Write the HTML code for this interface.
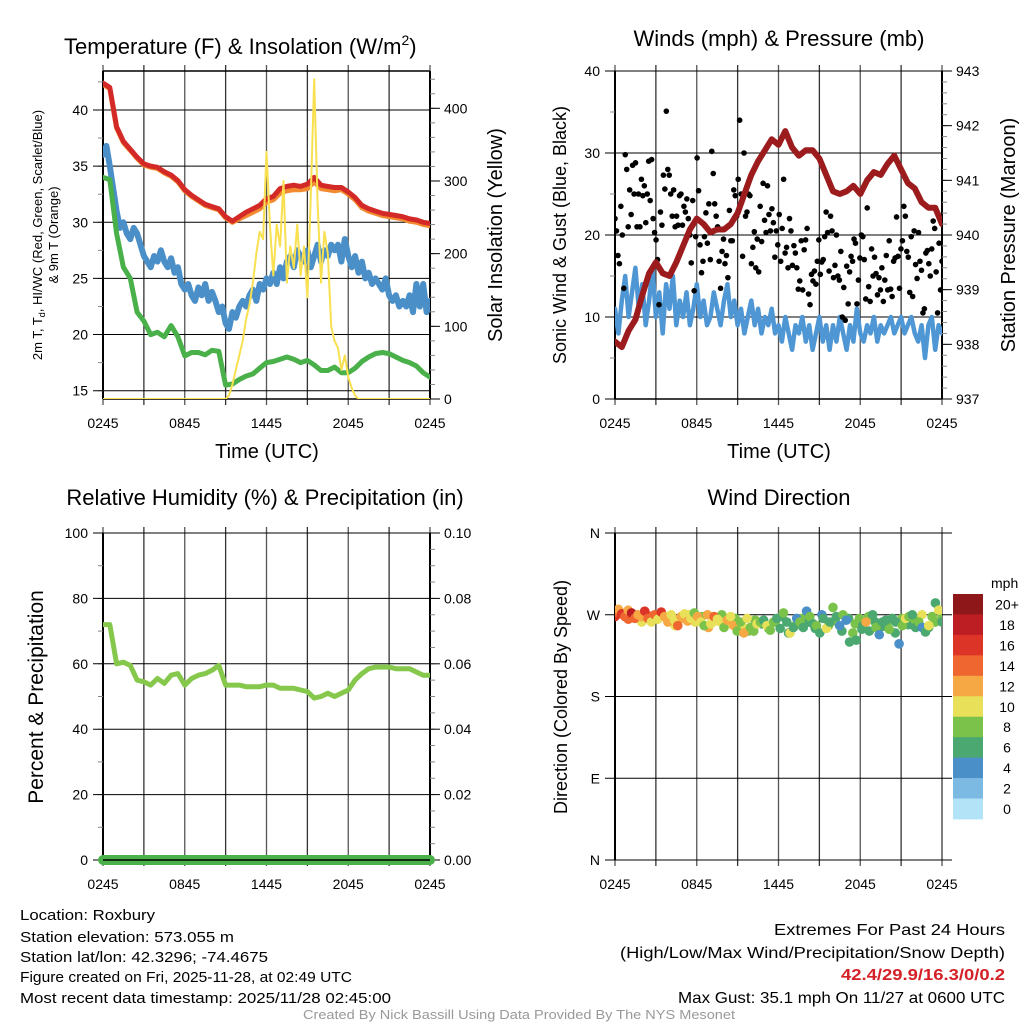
<!DOCTYPE html>
<html><head><meta charset="utf-8">
<style>
html,body{margin:0;padding:0;background:#fff;}
svg{display:block;font-family:"Liberation Sans",sans-serif;}
</style></head>
<body>
<svg id="chart" xmlns="http://www.w3.org/2000/svg" width="1024" height="1024" viewBox="0 0 1024 1024">
<rect width="1024" height="1024" fill="#fff"/>
</svg>
<script>
// ---------- DATA ----------
const timeLabels = ["0245","0845","1445","2045","0245"];
const tempRed = [42.4,42,38.5,37.2,36.5,35.8,35.2,35,34.9,34.5,34.2,33.7,32.9,32.4,32,31.6,31.4,31.2,30.5,30.1,30.5,30.9,31.2,31.5,32.1,32.3,33,33.2,33.3,33.2,33.4,34,33.3,33.2,33.1,33.1,32.7,32.2,31.5,31.2,31,30.8,30.7,30.6,30.5,30.3,30.2,30,29.9];
const tempOrange = [42.3,41.9,38.4,37.1,36.4,35.7,35.1,34.9,34.8,34.4,34.1,33.6,32.8,32.3,31.9,31.5,31.3,31.1,30.4,30,30.3,30.6,30.9,31.2,31.8,32,32.6,32.8,32.9,32.9,33,33.6,33,32.9,32.8,32.9,32.5,32,31.3,31,30.8,30.6,30.5,30.4,30.3,30.1,30,29.8,29.7];
const windChill = [36,36.8,35,33,31,29.5,30,29,28.5,29.5,29,28,27,26.5,26,27,26.5,27.5,26.5,26,26.8,25.5,26,24.5,24,24.5,23.5,23,24.2,23.5,24.5,23,23.8,23,22,22.5,21,20.5,22,21.5,22.5,23,22.5,23.5,24,23,24.5,24,25,24.5,25.5,24.5,26,25,26.5,27,26,27.5,27,26.5,27.5,26,27,28,26.5,27.5,27,28,27.5,28,26.5,28.5,27,26,27,25.5,26.5,25,25.5,24.5,25,24.5,24,25,23.5,23,23.5,22.5,23,22.5,23.5,22,24.5,22.5,24.5,22,23];
const dewPoint = [34,33.8,29,26,25,22,21.2,20,20.2,19.8,20.8,19.8,18.1,18.4,18.4,18.2,18.6,18.5,15.5,15.6,16,16.3,16.5,17,17.5,17.6,17.8,18,17.8,17.5,17.7,17.3,16.8,16.8,17.1,16.6,16.6,17,17.6,18,18.3,18.4,18.3,18,17.7,17.5,17.2,16.6,16.2];
const insolation = [0,0,0,0,0,0,0,0,0,0,0,0,0,0,0,0,0,0,0,0,0,0,0,0,0,0,0,0,0,0,0,0,0,0,0,0,0,5,20,40,60,80,110,130,160,200,230,220,340,240,170,240,210,300,160,210,180,240,170,210,140,280,440,270,160,230,200,100,80,70,40,60,30,15,5,0,0,0,0,0,0,0,0,0,0,0,0,0,0,0,0,0,0,0,0,0,0];
const windSpeed = [11,8,12,15,10,13,16,11,14,9,12,16,10,13,8,14,11,15,9,12,10,13,9,11,14,10,12,9,10,13,11,9,12,14,10,12,9,11,8,10,12,9,11,8,10,9,11,8,9,7,10,8,6,9,8,10,7,9,6,8,10,7,9,6,9,7,10,8,6,9,7,11,8,7,9,8,10,7,9,8,9,10,8,9,10,8,9,10,8,7,9,5,9,10,6,9,8];
const gusts = [22,20.5,17.5,16.5,23.5,20,13.5,29.8,28,21,25.5,22.5,28.5,25,28.8,21,25,21,26.8,24.8,26,21.5,25,29,24.2,29.2,22,20.3,19.4,17,11.5,22.8,21.2,27.3,25.6,35.1,28,27.3,25,22.3,25.5,21,22.3,21.2,24.8,25,21.2,23.5,22.8,24.4,22,20,16.6,24.2,13.2,19.8,29.4,25.4,18.8,15.4,16.8,19.8,22.7,19,23.8,17,30.2,27.5,23.8,22.3,21,16.8,13.5,18,19.5,16.5,17.5,14.8,23,19.3,19.3,25.5,24.8,22.3,26.8,34,25,17.4,30,22.3,22.8,25,24.8,16.5,18.5,20.4,16,19.5,15.5,23.5,19.2,26.3,21.8,20.3,26,22.5,20.5,23.2,21.5,17.3,20.5,18.8,22.5,16.8,20.8,26.8,17.8,18.5,16,22,20.5,16.3,18.7,17.8,16,13.4,14.4,19.3,13.3,18.2,19.4,20.8,12.8,11.5,15.2,14.4,15.6,14,16.8,19.4,15.2,16.7,17,19.8,22.8,20.3,15.6,22.3,20.5,14.8,16.3,20,15,14.5,18,10,13.6,9.6,16.2,11.6,15.5,17.4,16.8,19.5,19,11.6,14.5,17.2,20,19.8,17,12.2,23.3,13.7,11.9,18.3,15,17.3,15.3,12.7,14.8,13.3,16,11.9,14.5,17.5,13.3,19.3,13.4,12.5,16.8,17.2,22.2,17.4,13.5,18.3,19.3,23.5,22.3,18,17.3,13,19.8,12.5,20.5,16.4,14.7,20.3,16.8,15.7,10.5,11,17.8,18.1,16.5,15,18.3,21.7,20.8,15.5,10.5,19,13.3,16.8];
const pressure = [938.05,937.95,938.25,938.45,938.9,939.3,939.5,939.3,939.25,939.5,939.8,940.1,940.3,940.2,940.05,940.1,940.1,940.2,940.4,940.75,941.1,941.35,941.55,941.75,941.65,941.9,941.6,941.45,941.55,941.55,941.4,941.1,940.8,940.75,940.8,940.9,940.75,941,941.15,941.1,941.3,941.45,941.2,940.95,940.85,940.6,940.5,940.5,940.2];
const humidity = [72,72,60,60.5,59.5,55,54.5,53.5,55.5,54,56.5,57,53.5,55.5,56.5,57,58,59.5,53.5,53.5,53.5,53,53,53,53.5,53.5,52.5,52.5,52.5,52,51.5,49.5,50,51,50,51,52,55,57,58.5,59,59,59,58.5,58.5,58.5,57.5,56.5,56.5];
const precip = [0,0,0,0,0,0,0,0,0,0,0,0,0,0,0,0,0,0,0,0,0,0,0,0,0];
const windDir = [273,276,271,268,275,272,266,270,268,274,266,262,270,265,273,268,262,270,264,258,268,271,263,266,272,268,262,258,270,260,268,265,262,256,264,268,258,252,262,250,266,256,252,260,262,264,258,253,262,266,255,272,262,250,256,266,262,256,274,268,260,258,250,266,255,262,278,268,258,270,264,240,250,242,266,258,262,252,270,256,248,262,264,254,266,262,238,258,266,268,270,256,262,256,251,258,268,283,275,262];
const dirSpeed = [14,13,17,15,12,18,15,13,12,16,14,11,15,10,17,12,13,10,11,15,12,10,13,11,9,12,10,8,13,10,14,11,10,9,12,10,13,8,9,13,10,9,8,10,9,7,11,8,9,7,6,8,6,10,7,5,8,6,4,9,7,8,6,7,10,6,8,7,5,9,4,6,8,6,9,7,13,7,6,8,5,7,6,8,6,7,5,9,10,8,6,7,8,5,6,10,8,7,10,6];
const windDir2 = [268,272,265,270,262,269,266,271,264,258,266,270,262,268,256,263,270,260,266,258,252,264,260,255,262,268,250,258,266,262,255,270,258,263,252,266,260,254,268,262,257,263,250,266,259,264,270,256,262,268];
const dirSpeed2 = [16,12,15,13,11,14,12,10,13,11,12,10,11,9,12,10,9,11,8,10,9,8,7,9,8,6,7,9,8,6,7,5,8,9,6,7,8,6,9,7,6,8,7,9,6,8,10,7,8,9];
const speedBins = ["20+","18","16","14","12","10","8","6","4","2","0"];
const binColors = ["#8e1719","#bd1e24","#dc3528","#ef6630","#f5a843","#e8e058","#7bc24a","#4aa870","#4a8fc7","#7cb9e3","#b3e3f7"];

// ---------- HELPERS ----------
const svg = document.getElementById('chart');
const NS = "http://www.w3.org/2000/svg";
function mk(tag, attrs, parent){
  const e = document.createElementNS(NS, tag);
  for (const k in attrs) e.setAttribute(k, attrs[k]);
  (parent||svg).appendChild(e);
  return e;
}
function txt(s, x, y, opts, parent){
  const e = mk('text', Object.assign({x:x, y:y, 'font-size':14, fill:'#000'}, opts||{}), parent);
  e.textContent = s;
  return e;
}
const P1={x0:103,x1:430,y0:71,y1:399}, P2={x0:615,x1:942,y0:71,y1:399},
      P3={x0:103,x1:430,y0:533,y1:860}, P4={x0:615,x1:942,y0:533,y1:860};
function xf(P, i, n){ return P.x0 + (P.x1-P.x0)*i/(n-1); }
const yT = v => 390.7 - (v-15)*11.228;
const yI = v => 399 - v*(399-108.3)/400;
const yW = v => 399 - v*(399-71)/40;
const yP = v => 399 - (v-937)*(399-71)/6;
const yR = v => 860 - v*(860-533)/100;
const yPr = v => 860 - v*(860-533)/0.1;
const yD = v => 860 - v*(860-533)/360;

function frame(P, name){
  const g = mk('g', {});
  
  
  for (let h=0; h<=8; h++){
    const x = P.x0 + (P.x1-P.x0)*h/8;
    const l = mk('line',{x1:x,y1:P.y0-6,x2:x,y2:P.y1+6,stroke:(h%2?'#333':'#555'),'stroke-width':1.3}, g);
    
    
  }
  for (let i=0;i<timeLabels.length;i++){
    const x = P.x0 + (P.x1-P.x0)*i/4;
    const t = txt(timeLabels[i], x, P.y1+29, {'text-anchor':'middle'}, g);
    
    
  }
  return g;
}
function yAxis(P, g, ticks, fmt, yfn, side, minor){
  const xa = side==='l' ? P.x0 : P.x1;
  const d = side==='l' ? -1 : 1;
  mk('line',{x1:xa,y1:P.y0,x2:xa,y2:P.y1,stroke:'#000','stroke-width':2}, g);
  minor.forEach(v=>{ const y=yfn(v); mk('line',{x1:xa,y1:y,x2:xa+d*5,y2:y,stroke:'#888','stroke-width':1},g); });
  ticks.forEach(v=>{
    const y=yfn(v);
    if (side==='l'){
      const gl = mk('line',{x1:xa-10,y1:y,x2:P.x1,y2:y,stroke:'#000','stroke-width':1},g);
      
      
    } else {
      mk('line',{x1:xa,y1:y,x2:xa+10,y2:y,stroke:'#000','stroke-width':1},g);
    }
    const t = txt(fmt(v), side==='l'? xa-15 : xa+14, y+5, {'text-anchor': side==='l'?'end':'start'}, g);
    
    
  });
}
function polyline(pts, color, w, name, parent){
  const p = mk('polyline',{points:pts.map(p=>p[0].toFixed(1)+','+p[1].toFixed(1)).join(' '),fill:'none',stroke:color,'stroke-width':w,'stroke-linejoin':'round','stroke-linecap':'round'}, parent);
  
  
  return p;
}
function series(P, arr, yfn){ return arr.map((v,i)=>[xf(P,i,arr.length), yfn(v)]); }
function rng(a,b,s){ const r=[]; for(let v=a; v<=b+1e-9; v+=s) r.push(+v.toFixed(4)); return r; }
function clip(id,P){
  const c = mk('clipPath',{id:id});
  mk('rect',{x:P.x0,y:P.y0,width:P.x1-P.x0,height:P.y1-P.y0},c);
}
clip('c1',P1); clip('c2',P2); clip('c3',P3); clip('c4',P4);

// ---------- PANEL 1 ----------
{
  const g = frame(P1,'temperature-panel');
  yAxis(P1,g,[15,20,25,30,35,40],v=>String(v),yT,'l',rng(15,42.5,2.5));
  yAxis(P1,g,[0,100,200,300,400],v=>String(v),yI,'r',rng(0,440,20));
  mk('line',{x1:P1.x0,y1:P1.y0,x2:P1.x1,y2:P1.y0,stroke:'#000','stroke-width':1.5},g);
  mk('line',{x1:P1.x0,y1:P1.y1,x2:P1.x1,y2:P1.y1,stroke:'#000','stroke-width':1.5},g);
  const d = mk('g',{'clip-path':'url(#c1)'},g);
  polyline(series(P1,windChill,yT),'#4a8fc7',6,'wind-chill-line',d);
  polyline(series(P1,dewPoint,yT),'#49b04a',5,'dewpoint-line',d);
  polyline(series(P1,tempOrange,yT),'#f28a30',5,'temp-9m-line',d);
  polyline(series(P1,tempRed,yT),'#d42a27',5,'temp-2m-line',d);
  polyline(series(P1,insolation,yI),'#f8e050',2,'insolation-line',d);
  const t1 = txt('Temperature (F) & Insolation (W/m',64,54,{'font-size':22},g);
  
  
  const sup = mk('tspan',{dy:-9,'font-size':14},t1); sup.textContent='2';
  const sup2 = mk('tspan',{dy:9},t1); sup2.textContent=')';
  const yt = mk('text',{transform:'translate(42,235) rotate(-90)','text-anchor':'middle','font-size':13},g);
  
  
  yt.innerHTML = '2m T, T<tspan font-size="9" dy="3">d</tspan><tspan dy="-3">, HI/WC (Red, Green, Scarlet/Blue)</tspan>';
  const yt2 = txt('& 9m T (Orange)',0,0,{transform:'translate(58,235) rotate(-90)','text-anchor':'middle','font-size':13},g);
  
  
  const yr = txt('Solar Insolation (Yellow)',0,0,{transform:'translate(502,235) rotate(-90)','text-anchor':'middle','font-size':20},g);
  
  
  const xt = txt('Time (UTC)',267,458,{'text-anchor':'middle','font-size':20},g);
  
  
}
// ---------- PANEL 2 ----------
{
  const g = frame(P2,'wind-pressure-panel');
  yAxis(P2,g,[0,10,20,30,40],v=>String(v),yW,'l',rng(0,40,5));
  yAxis(P2,g,[937,938,939,940,941,942,943],v=>String(v),yP,'r',rng(937,943,0.2));
  mk('line',{x1:P2.x0,y1:P2.y1,x2:P2.x1,y2:P2.y1,stroke:'#000','stroke-width':1.5},g);
  const d = mk('g',{'clip-path':'url(#c2)'},g);
  polyline(series(P2,windSpeed,yW),'#4f97d4',4.5,'sonic-wind-line',d);
  gusts.forEach((v,i)=>{
    const c = mk('circle',{cx:xf(P2,i,gusts.length),cy:yW(v),r:2.8,fill:'#000'},d);
    
    
  });
  polyline(series(P2,pressure,yP),'#9c1c1e',6,'pressure-line',d);
  const t = txt('Winds (mph) & Pressure (mb)',779,46,{'text-anchor':'middle','font-size':22},g);
  
  
  const yl = txt('Sonic Wind & Gust (Blue, Black)',0,0,{transform:'translate(566,235) rotate(-90)','text-anchor':'middle','font-size':18},g);
  
  
  const yr = txt('Station Pressure (Maroon)',0,0,{transform:'translate(1015,235) rotate(-90)','text-anchor':'middle','font-size':20},g);
  
  
  const xt = txt('Time (UTC)',779,458,{'text-anchor':'middle','font-size':20},g);
  
  
}
// ---------- PANEL 3 ----------
{
  const g = frame(P3,'humidity-panel');
  yAxis(P3,g,[0,20,40,60,80,100],v=>String(v),yR,'l',rng(0,100,10));
  yAxis(P3,g,[0,0.02,0.04,0.06,0.08,0.1],v=>v.toFixed(2),yPr,'r',rng(0,0.1,0.005));
  const d = mk('g',{},g);
  polyline(series(P3,precip,yPr),'#4ab04a',10,'precip-line',d);
  polyline(series(P3,humidity,yR),'#85c84c',5,'humidity-line',mk('g',{'clip-path':'url(#c3)'},g));
  mk('line',{x1:P3.x0,y1:P3.y1,x2:P3.x1,y2:P3.y1,stroke:'#000','stroke-width':1.5},g);
  const t = txt('Relative Humidity (%) & Precipitation (in)',265,505,{'text-anchor':'middle','font-size':22},g);
  
  
  const yl = txt('Percent & Precipitation',0,0,{transform:'translate(43,697) rotate(-90)','text-anchor':'middle','font-size':21},g);
  
  
}
// ---------- PANEL 4 ----------
{
  const g = frame(P4,'wind-direction-panel');
  const dirLbl = ['N','E','S','W','N'];
  mk('line',{x1:P4.x0,y1:P4.y0,x2:P4.x0,y2:P4.y1,stroke:'#000','stroke-width':2},g);
  mk('line',{x1:P4.x1,y1:P4.y0,x2:P4.x1,y2:P4.y1,stroke:'#555','stroke-width':1.3},g);
  [0,90,180,270,360].forEach((v,i)=>{
    const y=yD(v);
    const gl = mk('line',{x1:P4.x0-10,y1:y,x2:P4.x1+10,y2:y,stroke:'#000','stroke-width':1},g);
    
    
    const t = txt(dirLbl[i],P4.x0-15,y+5,{'text-anchor':'end'},g);
    
    
  });
  const d = mk('g',{'clip-path':'url(#c4)'},g);
  function dots(dirs, spds){
    dirs.forEach((v,i)=>{
      const s = spds[i];
      const b = Math.min(10, Math.floor(s/2));
      const c = mk('circle',{cx:xf(P4,i,dirs.length),cy:yD(v),r:4.8,fill:binColors[10-b]},d);
      
      
    });
  }
  dots(windDir2, dirSpeed2);
  dots(windDir, dirSpeed);
  const t = txt('Wind Direction',779,505,{'text-anchor':'middle','font-size':22},g);
  
  
  const yl = txt('Direction (Colored By Speed)',0,0,{transform:'translate(567,697) rotate(-90)','text-anchor':'middle','font-size':18},g);
  
  
  const cb = mk('g',{},g);
  
  
  const mph = txt('mph',991,588,{'font-size':14},cb);
  
  
  speedBins.forEach((lab,i)=>{
    const y = 594 + i*20.45;
    const r = mk('rect',{x:953,y:y,width:30,height:20.9,fill:binColors[i]},cb);
    
    
    const t = txt(lab,1007,y+15.5,{'text-anchor':'middle','font-size':14},cb);
    
    
  });
}
// ---------- FOOTER TEXT ----------
{
  const g = mk('g',{});
  
  
  const lines = [["Location: Roxbury",920,135],["Station elevation: 573.055 m",942,214],["Station lat/lon: 42.3296; -74.4675",962,248],["Figure created on Fri, 2025-11-28, at 02:49 UTC",982,332],["Most recent data timestamp: 2025/11/28 02:45:00",1003,371]];
  lines.forEach(l=>{
    const t = txt(l[0],20,l[1],{'font-size':15,textLength:l[2],lengthAdjust:'spacingAndGlyphs'},g);
    
    
  });
  const g2 = mk('g',{});
  
  
  const r = [["Extremes For Past 24 Hours",935,231,'#000','normal'],["(High/Low/Max Wind/Precipitation/Snow Depth)",958,385,'#000','normal'],["42.4/29.9/16.3/0/0.2",980,164,'#d42027','bold'],["Max Gust: 35.1 mph On 11/27 at 0600 UTC",1003,327,'#000','normal']];
  r.forEach(l=>{
    const t = txt(l[0],1005-l[2],l[1],{'font-size':16,fill:l[3],'font-weight':l[4],textLength:l[2],lengthAdjust:'spacingAndGlyphs'},g2);
    
    
  });
  const f = txt('Created By Nick Bassill Using Data Provided By The NYS Mesonet',303,1019,{'font-size':12.5,fill:'#999',textLength:432,lengthAdjust:'spacingAndGlyphs'});
  
  
}
</script>
</body></html>
